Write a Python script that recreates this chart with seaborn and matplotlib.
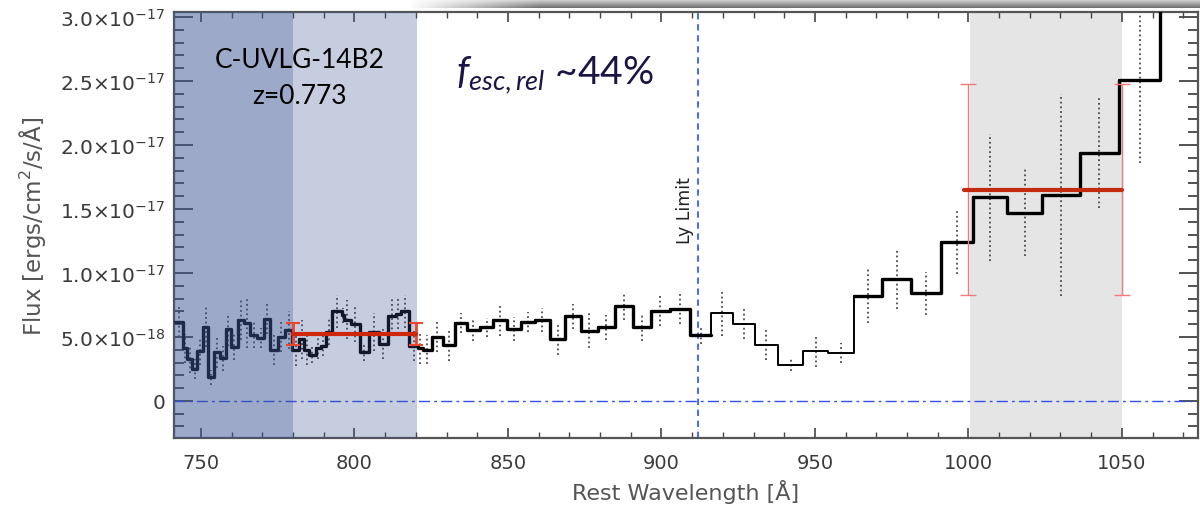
import numpy as np
import pandas as pd
import seaborn as sns
import matplotlib
matplotlib.use("Agg")
import matplotlib.pyplot as plt
from matplotlib.ticker import MultipleLocator

# binned spectrum: bin edges [A] and flux per bin [1e-18 erg/s/cm2/A]
edges = [741.5, 744.2, 745.5, 747.2, 748.7, 750.7, 752.3, 754.2, 756.1, 758.0,
         759.9, 761.9, 763.9, 765.9, 768.3, 770.6, 772.6, 775.1, 777.3, 779.8,
         782.0, 783.6, 785.2, 787.4, 789.0, 790.7, 792.8, 795.8, 796.6, 798.8,
         801.7, 804.7, 807.9, 810.9, 813.5, 815.1, 817.8, 820.7, 822.3, 825.1,
         828.9, 832.7, 836.5, 841.0, 845.1, 849.7, 854.1, 858.7, 863.8, 868.7,
         873.9, 879.2, 884.8, 890.7, 896.5, 902.7, 909.4, 916.3, 923.3, 930.4,
         938.0, 946.1, 954.3, 962.7, 972.0, 981.4, 991.2, 1001.4, 1012.7, 1024.0,
         1036.3, 1049.1, 1062.5, 1076.0]
flux = [6.2, 4.1, 3.3, 2.5, 3.9, 5.8, 1.85, 3.8, 3.33, 5.6,
        4.2, 6.33, 6.1, 5.16, 4.9, 6.4, 4.0, 5.0, 5.55,
        4.0, 4.8, 4.0, 3.6, 4.1, 4.3, 5.4, 7.0, 6.7, 6.35,
        6.0, 3.8, 5.37, 4.45, 6.6, 6.8, 7.0, 4.3, 4.1,
        4.0, 5.0, 4.4, 6.1, 5.57, 5.75, 6.35, 5.6, 6.15, 6.33, 4.8,
        6.6, 5.5, 5.75, 7.4, 5.75, 7.05, 7.2, 5.16,
        6.85, 6.0, 4.4, 2.8, 3.93, 3.75, 8.2, 9.5, 8.4, 12.45,
        15.9, 14.7, 16.1, 19.4, 25.1, 36.0]
flux_err = [1.2, 1.1, 1.1, 0.8, 1.1, 1.6, 0.6, 1.2, 1.0, 1.3,
            1.0, 1.6, 2.0, 1.0, 0.8, 1.2, 1.2, 1.2, 1.5,
            1.3, 1.5, 1.2, 0.6, 0.8, 0.8, 1.0, 1.3, 0.6, 1.5,
            1.4, 0.7, 1.5, 1.2, 1.4, 1.2, 1.3, 1.2, 1.2,
            1.15, 1.2, 1.25, 0.8, 0.9, 0.75, 1.25, 0.95, 0.8, 0.95, 1.2,
            1.0, 1.4, 1.0, 1.05, 1.1, 1.2, 1.2, 0.7,
            1.8, 1.2, 1.2, 0.5, 1.25, 0.8, 2.1, 2.35, 1.7, 2.55,
            4.95, 3.4, 7.9, 4.3, 6.5, 5.0]

# mean flux windows (LyC and non-ionizing continuum)
win_lo = [780, 1000]
win_hi = [820, 1050]
win_mean = [5.23, 16.5]
win_err = [0.85, 8.25]

ly_limit = 912
y_ticks = [0, 5e-18, 1e-17, 1.5e-17, 2e-17, 2.5e-17, 3e-17]
y_tick_labels = ["0", "5.0×10$^{-18}$", "1.0×10$^{-17}$", "1.5×10$^{-17}$",
                 "2.0×10$^{-17}$", "2.5×10$^{-17}$", "3.0×10$^{-17}$"]
x_ticks = [750, 800, 850, 900, 950, 1000, 1050]

scale = 1e-18
edge_arr = np.array(edges)
step_y = np.append(flux, flux[-1]) * scale
spec = pd.DataFrame({"wave": edge_arr, "flux": step_y})
centers = (edge_arr[:-1] + edge_arr[1:]) / 2
err_df = pd.DataFrame({"wave": centers,
                       "lo": (np.array(flux) - flux_err) * scale,
                       "hi": (np.array(flux) + flux_err) * scale})

sns.set_theme(style="ticks")
plt.rcParams["font.family"] = ["DejaVu Sans"]
plt.rcParams["mathtext.fontset"] = "dejavusans"
plt.rcParams["mathtext.it"] = "Lato:italic"
plt.rcParams["mathtext.rm"] = "Lato"

fig = plt.figure(figsize=(12, 5.06), dpi=100)
ax = fig.add_axes([174 / 1200, 1 - 439 / 506, 1024 / 1200, 426 / 506])

# shaded windows
ax.axvspan(730, win_lo[0], color="#3c5494", alpha=0.5, lw=0, zorder=5)
ax.axvspan(win_lo[0], win_hi[0] + 0.5, color="#3c5494", alpha=0.29, lw=0, zorder=5)
ax.axvspan(win_lo[1] + 0.5, win_hi[1], color="#e5e5e5", lw=0, zorder=0.5)

ax.axhline(0, color="#2f50f5", lw=1.0, ls=(0, (8, 3, 2, 3)), zorder=1)
ax.axvline(ly_limit, color="#3a5cff", lw=1.3, ls=(0, (3.5, 2.6)), zorder=1)

# error bars (dotted)
ax.vlines(err_df["wave"], err_df["lo"], err_df["hi"], colors="#4a4a4a",
          linestyles=(0, (1, 1.6)), lw=1.3, zorder=2)

# spectrum
sns.lineplot(data=spec, x="wave", y="flux", drawstyle="steps-post",
             estimator=None, sort=False, color="black", lw=1.4, ax=ax, zorder=3)
for lo, hi in [(741.5, 916.3), (962.7, 1076.0)]:
    seg = spec[(spec.wave >= lo) & (spec.wave <= hi)].copy()
    seg.iloc[-1, 1] = seg.iloc[-2, 1]
    sns.lineplot(data=seg, x="wave", y="flux", drawstyle="steps-post",
                 estimator=None, sort=False, color="black", lw=2.4, ax=ax, zorder=3)

# window means with error bars
ax.errorbar([win_lo[0], win_hi[0]], [win_mean[0] * scale] * 2, yerr=win_err[0] * scale,
            fmt="none", ecolor="#e8462e", elinewidth=2, capsize=5, capthick=1.5, zorder=7)
ax.plot([win_lo[0], win_hi[0]], [win_mean[0] * scale] * 2, color="#d0260c", lw=3, zorder=8)
ax.errorbar([win_lo[1], win_hi[1]], [win_mean[1] * scale] * 2, yerr=win_err[1] * scale,
            fmt="none", ecolor="#f07a7a", elinewidth=1, capsize=6, capthick=1, zorder=7)
ax.plot([win_lo[1] - 1.5, win_hi[1]], [win_mean[1] * scale] * 2, color="#c42a10", lw=3, zorder=8)

ax.set_xlim(741.2, 1074.8)
ax.set_ylim(-2.9e-18, 3.04e-17)
ax.set_xticks(x_ticks)
ax.set_yticks(y_ticks, y_tick_labels)
ax.xaxis.set_minor_locator(MultipleLocator(10))
ax.yaxis.set_minor_locator(MultipleLocator(1e-18))
ax.set_xlabel("")
ax.set_ylabel("")
ax.tick_params(which="both", direction="in", top=True, right=True,
               color="#444444", labelcolor="#3a3a3a")
ax.tick_params(axis="y", which="major", length=14, width=1.3, labelsize=14.5, pad=6)
ax.tick_params(axis="y", which="minor", length=7, width=1.3)
ax.tick_params(axis="x", which="major", length=7, width=1.2, pad=11, labelsize=14)
ax.tick_params(axis="x", which="minor", length=4, width=1.0)
for s in ax.spines.values():
    s.set_color("#555555")
    s.set_linewidth(1.6)
    s.set_visible(True)

fig.text(686 / 1200, 1 - 492 / 506, "Rest Wavelength [Å]", ha="center", va="center",
         fontsize=16, color="#555555")
fig.text(33 / 1200, 1 - 226 / 506, "Flux [ergs/cm$^2$/s/Å]", ha="center", va="center",
         rotation=90, fontsize=16.5, color="#555555")

fig.text(300 / 1200, 1 - 60 / 506, "C-UVLG-14B2", ha="center", va="center",
         fontsize=19, family="Lato", color="black")
fig.text(300 / 1200, 1 - 97 / 506, "z=0.773", ha="center", va="center",
         fontsize=19, family="Lato", color="black")
fig.text(456 / 1200, 1 - 75 / 506, r"$f_{esc,rel}$ ~44%", ha="left", va="center",
         fontsize=28, family="Lato", color="#1c1446", math_fontfamily="custom")
fig.text(685 / 1200, 1 - 211 / 506, "Ly Limit", ha="center", va="center",
         rotation=90, fontsize=12.5, color="#222222")

# grey shadow band along the top edge
band = fig.add_axes([0.34, 1 - 9 / 506, 0.66, 9 / 506])
rows = np.linspace(0.85, 0.45, 9)[:, None]
fade = np.clip(np.linspace(0, 6, 400), 0, 1)[None, :]
rgba = np.zeros((9, 400, 4))
rgba[..., :3] = rows[..., None] * np.ones(3)
rgba[..., 3] = fade * np.ones((9, 1))
band.imshow(rgba, aspect="auto", interpolation="bilinear")
band.axis("off")

fig.savefig("out.png", dpi=100)
